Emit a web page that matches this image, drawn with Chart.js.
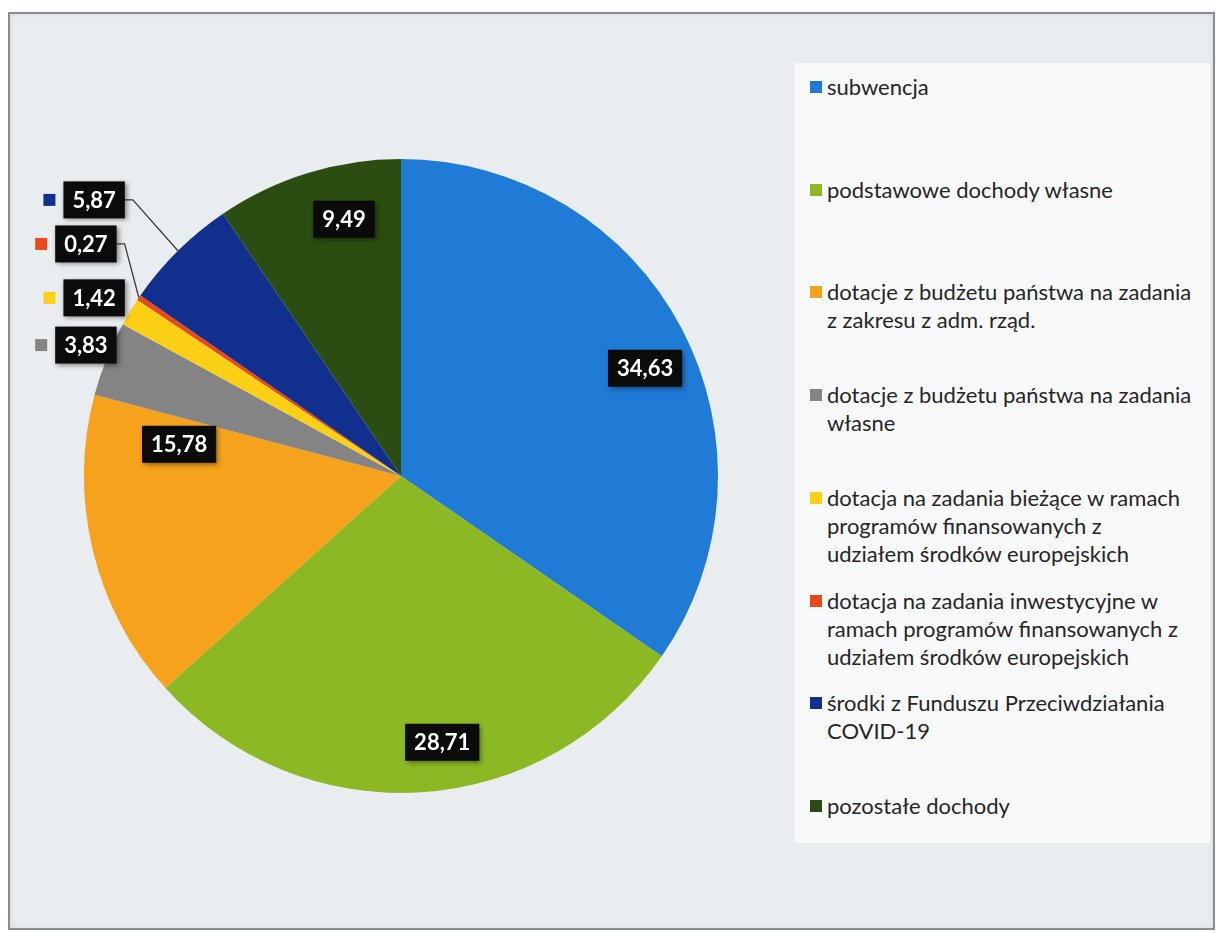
<!DOCTYPE html>
<html>
<head>
<meta charset="utf-8">
<script src="https://cdn.jsdelivr.net/npm/chart.js@4"></script>
<style>
  html, body { margin: 0; padding: 0; background: #ffffff; }
  #page {
    position: absolute; left: 8px; top: 12px; width: 1203px; height: 914px;
    background: #eaedf0; border: 2px solid #8a8d90;
    box-shadow: inset 0 0 6px rgba(0,0,0,0.08);
  }
  #legendBox {
    position: absolute; left: 785px; top: 49px; width: 415px; height: 780px;
    background: #f8f9fa;
  }
  #chartWrap { position: absolute; left: 0; top: 0; width: 802px; height: 933px; }
  #legend { position: absolute; left: 810px; top: 73px; font-family: Lato, sans-serif; font-size: 22px; color: #262626; }
  .item { position: absolute; left: 0; width: 400px; line-height: 28px; }
  .item .key { position: absolute; left: 0; top: 8px; width: 12px; height: 12px; }
  .item .txt { margin-left: 17px; white-space: nowrap; }
</style>
</head>
<body>
<div id="page"><div id="legendBox"></div></div>
<div id="chartWrap"><canvas id="chart"></canvas></div>
<div id="legend"></div>
<script>
// kategorie (legenda)
var labels = [
  'subwencja',
  'podstawowe dochody własne',
  'dotacje z budżetu państwa na zadania\nz zakresu z adm. rząd.',
  'dotacje z budżetu państwa na zadania\nwłasne',
  'dotacja na zadania bieżące w ramach\nprogramów finansowanych  z\nudziałem środków europejskich',
  'dotacja na zadania inwestycyjne w\nramach programów finansowanych z\nudziałem środków europejskich',
  'środki z Funduszu Przeciwdziałania\nCOVID-19',
  'pozostałe dochody'
];
// udział w %
var values = [34.63, 28.71, 15.78, 3.83, 1.42, 0.27, 5.87, 9.49];
var colors = ['#1f7bd6', '#8cb823', '#f6a21c', '#848484', '#fdd015', '#ea4a1a', '#112f8c', '#2c4d12'];

// rozmieszczenie etykiet (względem środka, w promieniach) - tylko układ
var labelPos = [
  [0.77, -0.34], [0.13, 0.84], [-0.70, -0.10],
  [-0.994, -0.413], [-0.968, -0.562], [-0.994, -0.732], [-0.968, -0.871],
  [-0.18, -0.81]
];
var showKey = [false, false, false, true, true, true, true, false];
var showLeader = [false, false, false, false, false, true, true, false];

// legenda HTML
var legend = document.getElementById('legend');
labels.forEach(function(t, i) {
  var d = document.createElement('div');
  d.className = 'item';
  d.style.top = (i * 102.7) + 'px';
  d.innerHTML = '<span class="key" style="background:' + colors[i] + '"></span><div class="txt">' +
    t.split('\n').join('<br>') + '</div>';
  legend.appendChild(d);
});

var fmt = function(v) { return v.toFixed(2).replace('.', ','); };

var labelPlugin = {
  id: 'boxLabels',
  afterDatasetsDraw: function(chart) {
    var ctx = chart.ctx;
    var meta = chart.getDatasetMeta(0);
    ctx.save();
    ctx.font = 'bold 22px Lato, sans-serif';
    ctx.textAlign = 'center';
    ctx.textBaseline = 'middle';
    meta.data.forEach(function(arc, i) {
      var R = arc.outerRadius;
      var lx = arc.x + labelPos[i][0] * R;
      var ly = arc.y + labelPos[i][1] * R;
      var txt = fmt(values[i]);
      var w = ctx.measureText(txt).width + 18;
      var h = 37;
      if (showLeader[i]) {
        var mid = (arc.startAngle + arc.endAngle) / 2;
        ctx.strokeStyle = '#3a3a3a';
        ctx.lineWidth = 1.3;
        ctx.beginPath();
        ctx.moveTo(lx + w / 2, ly);
        ctx.lineTo(lx + w / 2 + 8, ly);
        ctx.lineTo(arc.x + Math.cos(mid) * R, arc.y + Math.sin(mid) * R);
        ctx.stroke();
      }
      ctx.shadowColor = 'rgba(0,0,0,0.45)';
      ctx.shadowBlur = 5;
      ctx.shadowOffsetX = 2;
      ctx.shadowOffsetY = 2;
      ctx.fillStyle = '#0b0b0b';
      ctx.fillRect(lx - w / 2, ly - h / 2, w, h);
      ctx.shadowColor = 'transparent';
      if (showKey[i]) {
        ctx.fillStyle = colors[i];
        ctx.fillRect(lx - w / 2 - 20, ly - 6, 12, 12);
      }
      ctx.fillStyle = '#ffffff';
      ctx.fillText(txt, lx, ly + 1);
    });
    ctx.restore();
  }
};

var ctx = document.getElementById('chart').getContext('2d');
var myChart = new Chart(ctx, {
  type: 'pie',
  data: {
    labels: labels,
    datasets: [{
      data: values,
      backgroundColor: colors,
      borderWidth: 0
    }]
  },
  options: {
    responsive: true,
    maintainAspectRatio: false,
    animation: false,
    layout: { padding: { left: 84, right: 84, top: 19, bottom: 0 } },
    plugins: {
      legend: { display: false },
      tooltip: { enabled: false }
    }
  },
  plugins: [labelPlugin]
});
</script>
</body>
</html>
